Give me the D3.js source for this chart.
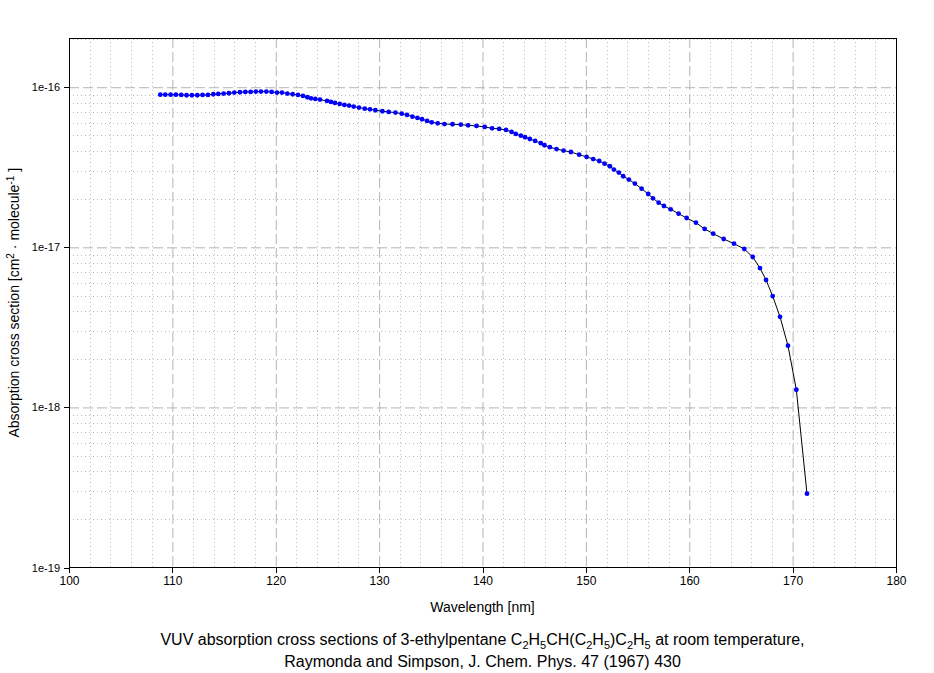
<!DOCTYPE html>
<html><head><meta charset="utf-8">
<script src="https://cdn.jsdelivr.net/npm/d3@7"></script>
<style>
html,body{margin:0;padding:0;background:#fff;}
svg{display:block;font-family:Arial,"Liberation Sans",sans-serif;}
</style></head>
<body>
<svg id="chart" width="934" height="673"></svg>
<script>
// Wavelength (nm)
const wavelength = [108.83,109.31,109.83,110.34,110.86,111.37,111.89,112.41,112.92,113.44,113.96,114.44,114.96,115.47,115.99,116.53,117.06,117.57,118.08,118.57,119.09,119.60,120.12,
120.60,121.12,121.64,122.15,122.63,123.06,123.41,123.83,124.28,124.96,125.34,125.73,126.19,126.64,127.09,127.54,128.05,128.61,129.12,129.64,130.32,130.93,131.58,132.19,132.70,133.22,133.71,
134.15,134.64,135.09,135.67,136.32,137.10,137.90,138.61,139.42,140.22,140.93,141.61,142.28,142.81,143.22,143.71,144.12,144.58,145.09,145.64,146.00,146.52,147.16,147.84,148.55,149.35,150.07,
150.71,151.29,151.81,152.32,152.71,153.19,153.61,154.16,154.74,155.39,156.03,156.49,157.04,157.55,158.20,158.97,159.75,160.65,
161.49,162.32,163.33,164.33,165.32,166.14,166.84,167.43,168.07,168.78,169.55,170.36,171.39];
// Absorption cross section, in units of 1e-16 cm^2
const crossSection1e16 = [0.899,0.899,0.899,0.899,0.895,0.891,0.891,0.891,0.895,0.895,0.904,0.908,0.913,0.917,0.926,0.930,0.935,0.935,0.939,0.939,0.939,0.935,0.926,
0.926,0.913,0.904,0.895,0.882,0.866,0.853,0.845,0.837,0.821,0.809,0.798,0.786,0.775,0.768,0.757,0.746,0.735,0.728,0.718,0.708,0.701,0.694,0.684,0.671,0.655,0.643,
0.631,0.616,0.604,0.595,0.589,0.587,0.584,0.578,0.573,0.565,0.554,0.549,0.541,0.526,0.511,0.498,0.487,0.475,0.462,0.447,0.434,0.422,0.411,0.402,0.394,0.379,0.367,
0.356,0.346,0.333,0.321,0.306,0.293,0.278,0.265,0.250,0.2325,0.2153,0.2023,0.1901,0.1812,0.1727,0.1623,0.1524,0.1425,
0.1302,0.1217,0.1127,0.1054,0.0976,0.0870,0.0742,0.0625,0.0496,0.0368,0.0243,0.01289,0.00289];

const xTicks = [100,110,120,130,140,150,160,170,180];
const yTicks = [1e-19,1e-18,1e-17,1e-16];
const yTickLabels = ["1e-19","1e-18","1e-17","1e-16"];
const xDomain = [100,180];
const yDomain = [1e-19,2.03e-16];

const data = wavelength.map((w,i)=>({x:w, y:crossSection1e16[i]*1e-16}));

const margin = {left:69, top:38, right:934-896, bottom:673-567.5};
const W = 934, H = 673;
const iw = W - margin.left - margin.right, ih = H - margin.top - margin.bottom;

const svg = d3.select("#chart");
const g = svg.append("g").attr("transform",`translate(${margin.left},${margin.top})`);

const x = d3.scaleLinear().domain(xDomain).range([0,iw]);
const y = d3.scaleLog().domain(yDomain).range([ih,0]);

const gridColor = "#b4b4b4";
const minorColor = "#bcbcbc";
// minor grids
const xMinor = d3.range(102,180,2).filter(v=>v%10!==0);
const yMinor = [];
for (let e=-19;e<=-16;e++) for (let m=2;m<=9;m++){ const v=m*Math.pow(10,e); if(v<yDomain[1]) yMinor.push(v); }

g.append("g").attr("class","xminor")
 .call(d3.axisBottom(x).tickValues(xMinor).tickSize(ih).tickFormat(""))
 .call(s=>s.select(".domain").remove())
 .selectAll("line").attr("stroke",minorColor).attr("stroke-dasharray","1,3").attr("shape-rendering","crispEdges");
g.append("g").attr("class","yminor")
 .call(d3.axisLeft(y).tickValues(yMinor).tickSize(-iw).tickFormat(""))
 .call(s=>s.select(".domain").remove())
 .selectAll("line").attr("stroke",minorColor).attr("stroke-dasharray","1,3").attr("shape-rendering","crispEdges");
// major grids
g.append("g").attr("class","xmajor")
 .call(d3.axisBottom(x).tickValues(xTicks.slice(1,-1)).tickSize(ih).tickFormat(""))
 .call(s=>s.select(".domain").remove())
 .selectAll("line").attr("stroke",gridColor).attr("stroke-dasharray","10,4");
g.append("g").attr("class","ymajor")
 .call(d3.axisLeft(y).tickValues(yTicks.slice(1)).tickSize(-iw).tickFormat(""))
 .call(s=>s.select(".domain").remove())
 .selectAll("line").attr("stroke",gridColor).attr("stroke-dasharray","10,4");

// frame
g.append("rect").attr("x",0).attr("y",0).attr("width",iw).attr("height",ih)
 .attr("fill","none").attr("stroke","#000").attr("stroke-width",1).attr("shape-rendering","crispEdges");

// axes
const xAxis = g.append("g").attr("transform",`translate(0,${ih})`)
 .call(d3.axisBottom(x).tickValues(xTicks).tickSize(5).tickPadding(4).tickFormat(d3.format("d")));
const yAxis = g.append("g")
 .call(d3.axisLeft(y).tickValues(yTicks).tickSize(5).tickPadding(4).tickFormat((d,i)=>yTickLabels[i]));
[xAxis,yAxis].forEach(a=>{
  a.select(".domain").remove();
  a.selectAll("line").attr("stroke","#000").attr("shape-rendering","crispEdges");
  a.selectAll("text").attr("fill","#000").style("font-size","12px").style("font-family","Arial, 'Liberation Sans', sans-serif");
});
yAxis.selectAll("text").style("font-size","11px");

// data line and markers
const line = d3.line().x(d=>x(d.x)).y(d=>y(d.y));
g.append("path").datum(data).attr("d",line).attr("fill","none").attr("stroke","#000").attr("stroke-width",1);
g.append("g").selectAll("circle").data(data).join("circle")
 .attr("cx",d=>x(d.x)).attr("cy",d=>y(d.y)).attr("r",2.4).attr("fill","#0000ff");

// axis titles
svg.append("text").attr("x",margin.left+iw/2).attr("y",612).attr("text-anchor","middle")
 .style("font-size","14px").text("Wavelength [nm]");

const yt = svg.append("text").attr("transform",`translate(19,${margin.top+ih/2}) rotate(-90)`)
 .attr("text-anchor","middle").style("font-size","14px");
yt.append("tspan").text("Absorption cross section [cm");
yt.append("tspan").attr("dy",-5).style("font-size","10px").text("2");
yt.append("tspan").attr("dy",5).text(" · molecule");
yt.append("tspan").attr("dy",-5).style("font-size","10px").text("-1");
yt.append("tspan").attr("dy",5).text(" ]");

// caption
const cap1 = svg.append("text").attr("x",margin.left+iw/2).attr("y",645).attr("text-anchor","middle")
 .style("font-size","16px");
const parts = [["VUV absorption cross sections of 3-ethylpentane C",0],["2",1],["H",0],["5",1],["CH(C",0],["2",1],["H",0],["5",1],[")C",0],["2",1],["H",0],["5",1],[" at room temperature,",0]];
let cur = 0;
parts.forEach(([t,sub])=>{
  const target = sub?4:0;
  cap1.append("tspan").attr("dy",target-cur).style("font-size",sub?"11px":"16px").text(t);
  cur = target;
});
svg.append("text").attr("x",margin.left+iw/2).attr("y",667).attr("text-anchor","middle")
 .style("font-size","16px").text("Raymonda and Simpson, J. Chem. Phys. 47 (1967) 430");
</script>
</body></html>
